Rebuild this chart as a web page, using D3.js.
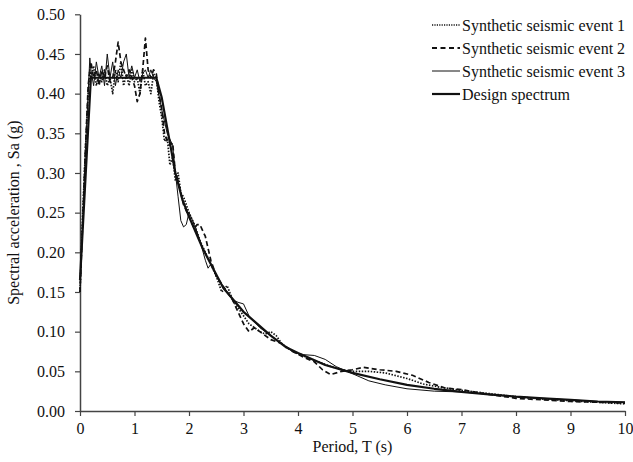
<!DOCTYPE html>
<html><head><meta charset="utf-8">
<script src="https://cdn.jsdelivr.net/npm/d3@7"></script>
</head><body style="margin:0"><svg id="c" width="633" height="462"></svg>
<script>
const xTicks=[0,1,2,3,4,5,6,7,8,9,10];
const yTicks=[0,0.05,0.10,0.15,0.20,0.25,0.30,0.35,0.40,0.45,0.50];
const seriesNames=["Synthetic seismic event 1","Synthetic seismic event 2","Synthetic seismic event 3","Design spectrum"];
const event1=[[0,0.15],[0.05,0.25],[0.1,0.33],[0.15,0.40],[0.18,0.43],[0.2,0.42],[0.25,0.435],[0.3,0.41],[0.35,0.425],[0.4,0.415],[0.45,0.43],[0.5,0.41],[0.55,0.42],[0.6,0.40],[0.65,0.43],[0.7,0.415],[0.75,0.44],[0.8,0.41],[0.85,0.425],[0.9,0.41],[0.95,0.43],[1.0,0.415],[1.05,0.42],[1.1,0.40],[1.15,0.43],[1.2,0.41],[1.25,0.415],[1.3,0.40],[1.35,0.425],[1.4,0.42],[1.45,0.39],[1.5,0.37],[1.55,0.34],[1.6,0.345],[1.65,0.31],[1.7,0.32],[1.75,0.29],[1.8,0.30],[1.85,0.275],[1.9,0.27],[2.0,0.25],[2.1,0.235],[2.2,0.215],[2.3,0.20],[2.4,0.185],[2.5,0.17],[2.6,0.15],[2.7,0.158],[2.8,0.14],[2.9,0.13],[3.0,0.12],[3.1,0.11],[3.2,0.105],[3.3,0.10],[3.4,0.097],[3.5,0.10],[3.6,0.095],[3.7,0.085],[3.8,0.08],[4.0,0.072],[4.3,0.064],[4.6,0.056],[4.8,0.052],[5.0,0.050],[5.3,0.050],[5.6,0.048],[6.0,0.041],[6.3,0.034],[6.6,0.030],[7.0,0.026],[7.5,0.022],[8,0.018],[8.5,0.015],[9,0.013],[9.5,0.011],[10,0.009]];
const event2=[[0,0.15],[0.1,0.33],[0.15,0.41],[0.2,0.44],[0.25,0.42],[0.3,0.43],[0.35,0.41],[0.4,0.43],[0.45,0.42],[0.5,0.435],[0.55,0.415],[0.6,0.42],[0.65,0.44],[0.7,0.465],[0.75,0.44],[0.8,0.43],[0.85,0.42],[0.9,0.43],[0.95,0.42],[1.0,0.41],[1.05,0.39],[1.1,0.40],[1.15,0.43],[1.2,0.47],[1.25,0.43],[1.3,0.42],[1.35,0.43],[1.4,0.425],[1.45,0.40],[1.5,0.38],[1.55,0.35],[1.6,0.34],[1.65,0.335],[1.7,0.338],[1.75,0.30],[1.8,0.29],[1.9,0.26],[2.0,0.245],[2.1,0.23],[2.15,0.235],[2.2,0.235],[2.3,0.22],[2.4,0.19],[2.5,0.17],[2.6,0.16],[2.7,0.15],[2.8,0.14],[2.9,0.125],[3.0,0.11],[3.1,0.10],[3.2,0.105],[3.3,0.10],[3.5,0.09],[3.7,0.085],[3.9,0.075],[4.1,0.068],[4.3,0.062],[4.45,0.052],[4.6,0.046],[4.8,0.050],[5.0,0.052],[5.2,0.055],[5.5,0.052],[5.8,0.050],[6.1,0.045],[6.4,0.036],[6.7,0.029],[7.0,0.027],[7.5,0.021],[8,0.016],[8.5,0.014],[9,0.012],[9.5,0.011],[10,0.010]];
const event3=[[0,0.15],[0.1,0.33],[0.15,0.40],[0.18,0.445],[0.2,0.43],[0.25,0.41],[0.3,0.44],[0.35,0.42],[0.4,0.435],[0.45,0.41],[0.5,0.45],[0.55,0.42],[0.6,0.44],[0.65,0.41],[0.7,0.43],[0.75,0.42],[0.8,0.44],[0.85,0.45],[0.9,0.42],[0.95,0.435],[1.0,0.42],[1.05,0.43],[1.1,0.415],[1.15,0.425],[1.2,0.43],[1.25,0.42],[1.3,0.43],[1.35,0.42],[1.4,0.415],[1.5,0.38],[1.6,0.35],[1.7,0.335],[1.75,0.30],[1.8,0.27],[1.85,0.24],[1.9,0.232],[1.95,0.235],[2.0,0.25],[2.1,0.235],[2.2,0.215],[2.3,0.19],[2.35,0.18],[2.4,0.185],[2.5,0.17],[2.6,0.16],[2.8,0.14],[2.9,0.137],[3.0,0.135],[3.1,0.12],[3.3,0.105],[3.5,0.095],[3.7,0.085],[3.9,0.075],[4.1,0.071],[4.3,0.07],[4.5,0.065],[4.7,0.056],[4.9,0.05],[5.1,0.044],[5.3,0.038],[5.6,0.033],[6.0,0.028],[6.5,0.025],[7.0,0.024],[7.5,0.021],[8,0.018],[8.5,0.016],[9,0.014],[9.5,0.012],[10,0.011]];
const design=[[0,0.165],[0.2,0.42],[1.4,0.42],[1.5,0.395],[1.75,0.30],[1.88,0.266],[2.0,0.245],[2.25,0.205],[2.5,0.172],[2.63,0.155],[3.0,0.125],[3.5,0.095],[3.79,0.080],[4.0,0.073],[4.5,0.058],[5.0,0.048],[5.5,0.040],[6.0,0.033],[6.5,0.028],[7.0,0.024],[7.5,0.021],[8.0,0.018],[8.5,0.016],[9.0,0.014],[9.5,0.012],[10,0.011]];

const FONT='"Liberation Serif"';
const svg=d3.select("#c");
const L=80,R=625,T=14.3,B=411;
const x=d3.scaleLinear().domain([0,10]).range([L,R]);
const y=d3.scaleLinear().domain([0,0.5]).range([B,T]);
const axCol="#444";

const gx=svg.append("g").attr("transform",`translate(0,${B})`)
 .call(d3.axisBottom(x).tickValues(xTicks).tickSize(5).tickSizeOuter(0).tickPadding(4).tickFormat(d3.format("d")));
const gy=svg.append("g").attr("transform",`translate(${L},0)`)
 .call(d3.axisLeft(y).tickValues(yTicks).tickSize(5).tickSizeOuter(0).tickPadding(10).tickFormat(d3.format(".2f")));
[gx,gy].forEach(g=>{g.attr("font-family","Liberation Serif").attr("font-size",16);
 g.select(".domain").attr("stroke",axCol).attr("stroke-width",1.5);
 g.selectAll(".tick line").attr("stroke",axCol).attr("stroke-width",1.2);
 g.selectAll(".tick text").attr("fill","#111").style("font-family",FONT).style("font-size","16px");});
gx.selectAll(".tick text").attr("dy","0.875em");

svg.append("text").attr("x",(L+R)/2).attr("y",452).attr("text-anchor","middle").attr("fill","#111").style("font-family",FONT).style("font-size","16px").text("Period, T (s)");
svg.append("text").attr("transform",`translate(19,${(T+B)/2}) rotate(-90)`).attr("text-anchor","middle").attr("fill","#111").style("font-family",FONT).style("font-size","16px").text("Spectral acceleration , Sa (g)");

const line=d3.line().x(d=>x(d[0])).y(d=>y(d[1]));
const styles=[
 {data:event1,w:1.7,dash:"1.5,1.5"},
 {data:event2,w:1.7,dash:"5,3"},
 {data:event3,w:1,dash:null},
 {data:design,w:2.2,dash:null}];
styles.forEach(s=>{
 svg.append("path").datum(s.data).attr("d",line).attr("fill","none").attr("stroke","#111")
  .attr("stroke-width",s.w).attr("stroke-dasharray",s.dash).attr("stroke-linejoin","round");
});

const legY=[25,48,71,94];
seriesNames.forEach((n,i)=>{
 const s=styles[i];
 svg.append("line").attr("x1",432).attr("x2",460).attr("y1",legY[i]).attr("y2",legY[i])
  .attr("stroke","#111").attr("stroke-width",i==1?2:s.w).attr("stroke-dasharray",i==0?"1.2,1.2":(i==1?"5,3.5":null));
 svg.append("text").attr("x",462).attr("y",legY[i]).attr("dy","0.35em").attr("fill","#111").style("font-family",FONT).style("font-size","16px").text(n);
});
</script></body></html>
